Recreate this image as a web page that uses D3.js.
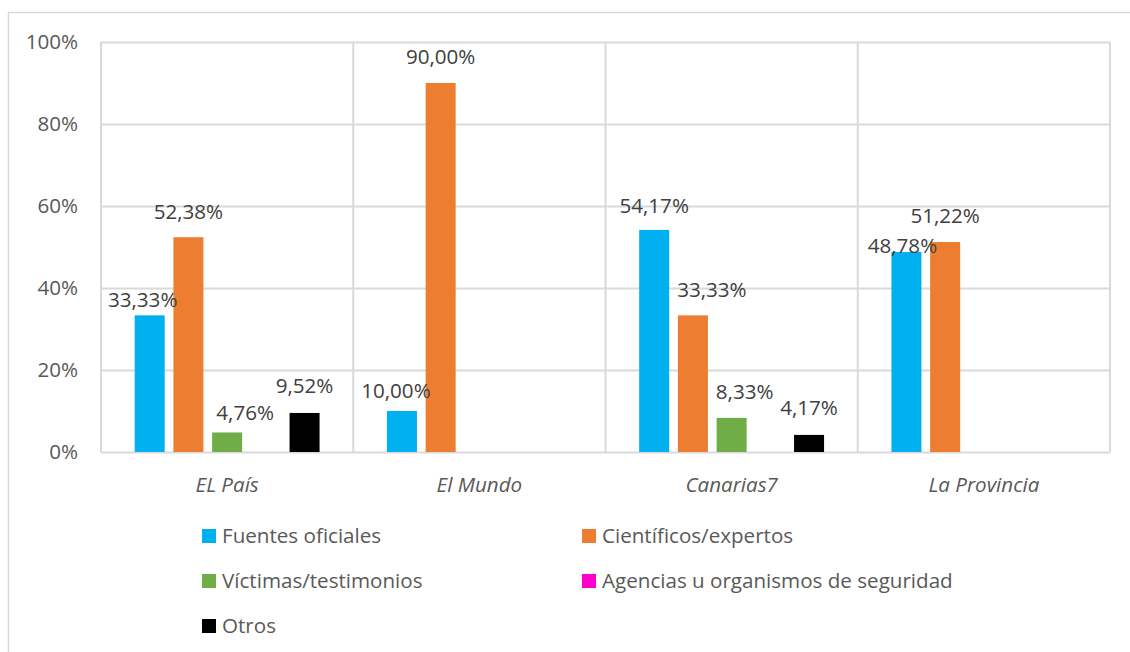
<!DOCTYPE html>
<html>
<head>
<meta charset="utf-8">
<script src="https://cdn.jsdelivr.net/npm/d3@7"></script>
<style>
  body { margin: 0; background: #fff; }
  text { font-family: "Open Sans", "Noto Sans", sans-serif; fill: #595959; }
</style>
</head>
<body>
<div class="chart"></div>
<script>
const categories = ['EL País', 'El Mundo', 'Canarias7', 'La Provincia'];
const seriesNames = ['Fuentes oficiales', 'Científicos/expertos', 'Víctimas/testimonios', 'Agencias u organismos de seguridad', 'Otros'];
const fuentes = [33.33, 10.00, 54.17, 48.78];
const cientificos = [52.38, 90.00, 33.33, 51.22];
const victimas = [4.76, 0, 8.33, 0];
const agencias = [0, 0, 0, 0];
const otros = [9.52, 0, 4.17, 0];
const yTicks = [0, 20, 40, 60, 80, 100];

const colors = ['#00b0f0', '#ed7d31', '#70ad47', '#ff00cc', '#000000'];
// hand-moved data labels (dx, dy) as in the original
const labelDx = [[-7, -6, 0, -4], [0, 0, 19, 0], [18, 0, 13, 0], [0, 0, 0, 0], [0, 0, 0, 0]];
const labelDy = [[11, 6, 2, 20], [1, 0, 1, 0], [7, 0, 0, 0], [0, 0, 0, 0], [-1, 0, -1, 0]];

const allSeries = [fuentes, cientificos, victimas, agencias, otros];
const fontSize = '20.6px';

const svg = d3.select('.chart').append('svg')
  .attr('width', 1130).attr('height', 652);

const margin = { top: 42, right: 20, bottom: 200, left: 101 },
  width = 1110 - margin.left,
  height = 452 - margin.top;

// outer chart border (cut off by the window on the right and bottom)
svg.append('rect')
  .attr('x', 8.5).attr('y', 12.5)
  .attr('width', 1140).attr('height', 660)
  .attr('fill', 'none').attr('stroke', '#d9d9d9').attr('stroke-width', 1.5);

const x0 = d3.scaleBand().domain(categories).range([0, width]);
const x1 = d3.scaleBand().domain(seriesNames).range([0, x0.bandwidth()])
  .paddingInner(0.225).paddingOuter(0.87);
const y = d3.scaleLinear().domain([0, 100]).range([height, 0]);

const g = svg.append('g')
  .attr('transform', 'translate(' + margin.left + ',' + margin.top + ')');

// horizontal grid + y labels
const yAxis = g.append('g')
  .attr('class', 'y axis')
  .call(d3.axisLeft(y).tickValues(yTicks).tickFormat(function(d) { return d + '%'; })
    .tickSizeInner(-width).tickSizeOuter(0).tickPadding(23));
yAxis.select('.domain').remove();
yAxis.selectAll('line').attr('stroke', '#d9d9d9').attr('stroke-width', 2);
yAxis.selectAll('text').style('font-size', fontSize).style('fill', '#595959');

// vertical category separators
g.selectAll('.vline')
  .data(categories.concat(['end']))
  .enter().append('line')
  .attr('class', 'vline')
  .attr('x1', function(d, i) { return i < categories.length ? x0(d) : width; })
  .attr('x2', function(d, i) { return i < categories.length ? x0(d) : width; })
  .attr('y1', 0).attr('y2', height)
  .attr('stroke', '#d9d9d9').attr('stroke-width', 2);

// category labels
const xAxis = g.append('g')
  .attr('class', 'x axis')
  .attr('transform', 'translate(0,' + height + ')')
  .call(d3.axisBottom(x0).tickSize(0).tickPadding(25));
xAxis.select('.domain').remove();
xAxis.selectAll('text').style('font-size', fontSize).style('font-style', 'italic').style('fill', '#595959');

const fmt = d3.formatLocale({ decimal: ',', thousands: '.', grouping: [3], currency: ['', '€'] }).format('.2f');

const points = [];
allSeries.forEach(function(vals, s) {
  vals.forEach(function(v, c) {
    if (v > 0) points.push({ s: s, c: c, v: v });
  });
});

g.selectAll('.bar')
  .data(points)
  .enter().append('rect')
  .attr('class', 'bar')
  .attr('x', function(d) { return x0(categories[d.c]) + x1(seriesNames[d.s]); })
  .attr('y', function(d) { return y(d.v); })
  .attr('width', x1.bandwidth())
  .attr('height', function(d) { return height - y(d.v); })
  .attr('fill', function(d) { return colors[d.s]; });

g.selectAll('.label')
  .data(points)
  .enter().append('text')
  .attr('class', 'label')
  .attr('x', function(d) { return x0(categories[d.c]) + x1(seriesNames[d.s]) + x1.bandwidth() / 2 + labelDx[d.s][d.c]; })
  .attr('y', function(d) { return y(d.v) - 19 + labelDy[d.s][d.c]; })
  .attr('text-anchor', 'middle')
  .style('font-size', fontSize)
  .style('fill', '#404040')
  .text(function(d) { return fmt(d.v) + '%'; });

// legend, two columns
const legend = svg.append('g').attr('class', 'legend');
const items = legend.selectAll('.item')
  .data(seriesNames)
  .enter().append('g')
  .attr('class', 'item')
  .attr('transform', function(d, i) {
    return 'translate(' + (i % 2 === 0 ? 202 : 582) + ',' + (529 + Math.floor(i / 2) * 45) + ')';
  });
items.append('rect')
  .attr('width', 14).attr('height', 14)
  .attr('fill', function(d, i) { return colors[i]; });
items.append('text')
  .attr('x', 20).attr('y', 14)
  .style('font-size', fontSize)
  .style('fill', '#595959')
  .text(function(d) { return d; });
</script>
</body>
</html>
